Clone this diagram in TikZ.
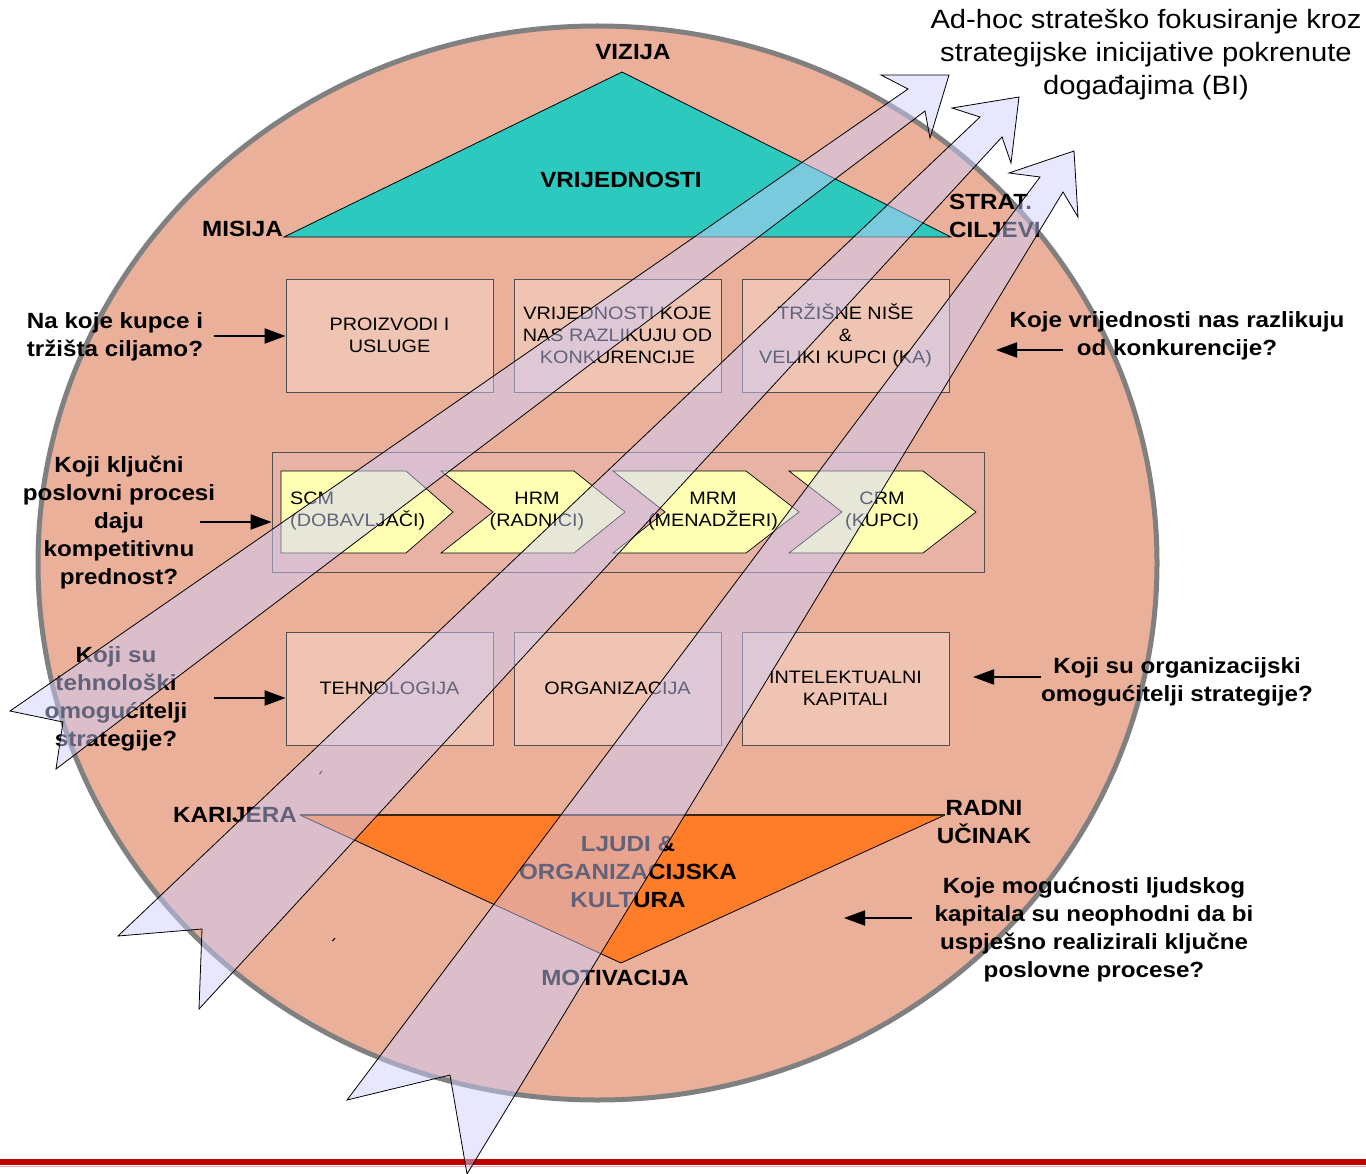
\documentclass[tikz,border=0pt]{standalone}
\usepackage{fontspec}
\setmainfont{Liberation Sans}[FakeStretch=1.1]
\usetikzlibrary{arrows.meta,calc}
\definecolor{salmon}{RGB}{234,176,154}
\definecolor{circline}{RGB}{128,128,128}
\definecolor{teal2}{RGB}{45,200,190}
\definecolor{boxfill}{RGB}{240,196,178}
\definecolor{pboxfill}{RGB}{232,178,164}
\definecolor{boxline}{RGB}{80,80,80}
\definecolor{chev}{RGB}{255,255,180}
\definecolor{orange2}{RGB}{255,125,40}
\definecolor{lav}{RGB}{206,206,255}
\definecolor{redline}{RGB}{192,0,0}
\definecolor{pinkline}{RGB}{235,170,170}
\tikzset{
  boldlbl/.style={font=\fontsize{22}{28}\selectfont\bfseries, align=center, inner sep=0pt},
  toptxt/.style={font=\fontsize{26.5}{33}\selectfont, align=center, inner sep=0pt},
  boxtxt/.style={font=\fontsize{18}{22}\selectfont, align=center, inner sep=0pt},
  box/.style={draw=boxline, fill=boxfill, minimum width=207pt, minimum height=113pt, inner sep=0pt, line width=0.8pt, font=\fontsize{18}{22}\selectfont, align=center},
  chevshape/.style={draw=black, fill=chev, line width=0.7pt},
  qarrow/.style={-{Triangle[length=21pt,width=15pt]}, line width=2pt},
  bigarrow/.style={draw=black, fill=lav, fill opacity=0.48, line width=0.8pt, line join=miter}
}
\begin{document}
\begin{tikzpicture}[x=1pt,y=-1pt]
\useasboundingbox (0,0) rectangle (1366,1174);
\fill[white] (0,0) rectangle (1366,1174);

% big circle
\draw[fill=salmon, draw=circline, line width=5pt] (597.5,563) ellipse [x radius=559.5, y radius=537];

% top triangle
\draw[fill=teal2, draw=black, line width=0.8pt] (622,72) -- (951,237) -- (284,237) -- cycle;
\node[boldlbl] (vizija) at (633,52) {VIZIJA};
\node[boldlbl] (vrijed) at (621,180) {VRIJEDNOSTI};
\node[boldlbl, anchor=east] (misija) at (283,229) {MISIJA};
\node[boldlbl, anchor=west, align=left] (strat) at (949,216) {STRAT.\\CILJEVI};

% row 1 boxes
\node[box] (b1) at (389.5,335.5) {PROIZVODI I\\USLUGE};
\node[box] (b2) at (617.5,335.5) {VRIJEDNOSTI KOJE\\NAS RAZLIKUJU OD\\KONKURENCIJE};
\node[box] (b3) at (845.5,335.5) {TRŽIŠNE NIŠE\\\&\\VELIKI KUPCI (KA)};

% process box
\node[draw=boxline, fill=pboxfill, line width=0.8pt, minimum width=712pt, minimum height=120pt, inner sep=0pt] (pbox) at (628,512) {};
\draw[chevshape] (281,471) -- (406,471) -- (453,512) -- (406,553) -- (281,553) -- cycle;
\draw[chevshape] (441,471) -- (574,471) -- (625,512) -- (574,553) -- (441,553) -- (493,512) -- cycle;
\draw[chevshape] (613,471) -- (746,471) -- (799,512) -- (746,553) -- (613,553) -- (665,512) -- cycle;
\draw[chevshape] (789,471) -- (923,471) -- (976,512) -- (923,553) -- (789,553) -- (842,512) -- cycle;
\node[boxtxt, anchor=west, align=left] (scm) at (290,511) {SCM\\(DOBAVLJAČI)};
\node[boxtxt] (hrm) at (537,511) {HRM\\(RADNICI)};
\node[boxtxt] (mrm) at (713,511) {MRM\\(MENADŽERI)};
\node[boxtxt] (crm) at (882,511) {CRM\\(KUPCI)};

% row 3 boxes
\node[box] (b4) at (389.5,688.5) {TEHNOLOGIJA};
\node[box] (b5) at (617.5,688.5) {ORGANIZACIJA};
\node[box] (b6) at (845.5,688.5) {INTELEKTUALNI\\KAPITALI};

% bottom triangle
\fill[orange2] (300,815) -- (945,815) -- (621,963) -- cycle;
\draw[black, line width=0.8pt] (945,815) -- (621,963) -- (300,815);
\draw[black!70!brown, line width=1.8pt] (300,815) -- (945,815);
\node[boldlbl, anchor=east] (karijera) at (297,815) {KARIJERA};
\node[boldlbl] (radni) at (984,822) {RADNI\\UČINAK};
\node[boldlbl] (ljudi) at (628,872) {LJUDI \&\\ORGANIZACIJSKA\\KULTURA};
\node[boldlbl] (motiv) at (615,978) {MOTIVACIJA};

% tiny marks
\draw[line width=1pt] (319.5,774) -- (322,771);
\draw[line width=1pt] (332.5,941) -- (335,938);

% questions
\node[boldlbl] (q1) at (115,337) {Na koje kupce i\\tržišta ciljamo?};
\node[boldlbl] (q2) at (119,523) {Koji ključni\\poslovni procesi\\daju\\kompetitivnu\\prednost?};
\node[boldlbl] (q3) at (116,699) {Koji su\\tehnološki\\omogućitelji\\strategije?};
\node[boldlbl] (q4) at (1177,336) {Koje vrijednosti nas razlikuju\\od konkurencije?};
\node[boldlbl] (q5) at (1177,682) {Koji su organizacijski\\omogućitelji strategije?};
\node[boldlbl] (q6) at (1094,930) {Koje mogućnosti ljudskog\\kapitala su neophodni da bi\\uspješno realizirali ključne\\poslovne procese?};
\node[toptxt] (bi) at (1146,55) {Ad-hoc strateško fokusiranje kroz\\strategijske inicijative pokrenute\\događajima (BI)};

\coordinate (a1s) at (214,336);
\coordinate (a2s) at (200,522);
\coordinate (a3s) at (214,698);
\coordinate (a4s) at (1063,350);
\coordinate (a4e) at (996,350);
\coordinate (a5s) at (1041,677);
\coordinate (a5e) at (973,677);
\coordinate (a6s) at (912,918);
\coordinate (a6e) at (844,918);
\draw[qarrow] (a1s) -- (a1s -| b1.west);
\draw[qarrow] (a2s) -- (a2s -| pbox.west);
\draw[qarrow] (a3s) -- (a3s -| b4.west);
\draw[qarrow] (a4s) -- (a4e);
\draw[qarrow] (a5s) -- (a5e);
\draw[qarrow] (a6s) -- (a6e);

% bottom red line
\draw[redline, line width=6pt] (0,1162) -- (1366,1162);
\draw[pinkline, line width=1pt] (0,1166.5) -- (1366,1166.5);

% translucent strategic arrows
\draw[bigarrow] (10,711) -- (908,89) -- (881,75) -- (949,75) -- (930,138) -- (925,111) -- (56,769) -- (63,722) -- cycle;
\draw[bigarrow] (118,936) -- (980,117) -- (952,108) -- (1019,97) -- (1011,163) -- (1002,137) -- (199,1009) -- (202,929) -- cycle;
\draw[bigarrow] (347,1100) -- (1040,177) -- (1009,173) -- (1074,151) -- (1078,217) -- (1063,192) -- (467,1174) -- (450,1075) -- cycle;
\end{tikzpicture}
\end{document}
